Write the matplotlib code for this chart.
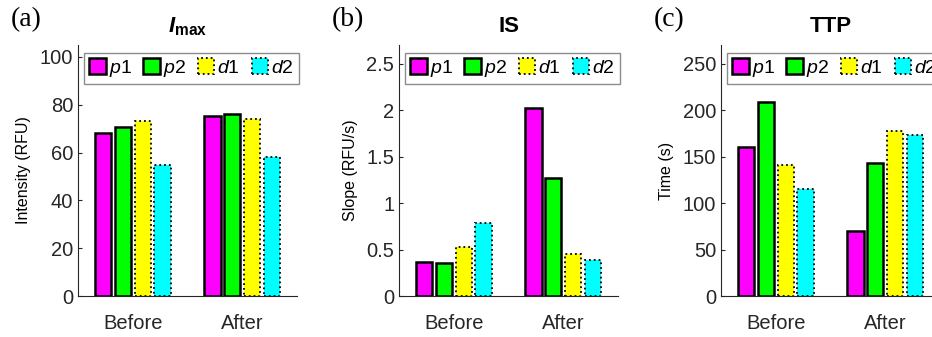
import numpy as np
import matplotlib.pyplot as plt

# grouped bars: before/after for p1, p2, d1, d2
groups = ['Before', 'After']
series = ['p1', 'p2', 'd1', 'd2']
legend_labels = [r'$\mathit{p}$1', r'$\mathit{p}$2', r'$\mathit{d}$1', r'$\mathit{d}$2']

imax = {'p1': [68.2, 75.3], 'p2': [70.5, 76.3], 'd1': [73.1, 74.2], 'd2': [54.7, 58.2]}
slope = {'p1': [0.362, 2.02], 'p2': [0.354, 1.27], 'd1': [0.526, 0.451], 'd2': [0.787, 0.387]}
ttp = {'p1': [160.4, 70.1], 'p2': [209.0, 142.7], 'd1': [140.6, 177.3], 'd2': [115.1, 173.4]}

colors = ['#ff00ff', '#00ff00', '#ffff00', '#00ffff']
styles = ['-', '-', ':', ':']

plt.rcParams['font.family'] = ['Liberation Sans', 'DejaVu Sans']
plt.rcParams['mathtext.fontset'] = 'custom'
plt.rcParams['mathtext.rm'] = 'Liberation Sans'
plt.rcParams['mathtext.it'] = 'Liberation Sans:italic'
plt.rcParams['mathtext.bf'] = 'Liberation Sans:bold'
plt.rcParams['mathtext.bfit'] = 'Liberation Sans:bold:italic'

panels = [
    ('(a)', r'$\mathbfit{I}_{\mathbf{max}}$', 'Intensity (RFU)', imax, 105, [0, 20, 40, 60, 80, 100], ['0', '20', '40', '60', '80', '100']),
    ('(b)', 'IS', 'Slope (RFU/s)', slope, 2.7, [0, 0.5, 1, 1.5, 2, 2.5], ['0', '0.5', '1', '1.5', '2', '2.5']),
    ('(c)', 'TTP', 'Time (s)', ttp, 270, [0, 50, 100, 150, 200, 250], ['0', '50', '100', '150', '200', '250']),
]

fig = plt.figure(figsize=(9.32, 3.37), dpi=100)
lefts = [78 / 932, 399 / 932, 721 / 932]
x = np.arange(1, len(groups) + 1)
step = 0.182
width = 0.15

for left, (tag, title, ylabel, data, ytop, yt, ytl) in zip(lefts, panels):
    ax = fig.add_axes([left, 41 / 337, 219 / 932, 251 / 337])
    for i, s in enumerate(series):
        lw = 1.8 if styles[i] == '-' else 1.3
        ax.bar(x + (i - 1.5) * step, data[s], width, color=colors[i], edgecolor='black',
               linewidth=lw, linestyle=styles[i], label=legend_labels[i])
    ax.set_xlim(0.5, 2.5)
    ax.set_ylim(0, ytop)
    ax.set_xticks(x)
    ax.set_xticklabels(groups)
    ax.set_yticks(yt)
    ax.set_yticklabels(ytl)
    ax.tick_params(direction='in', length=3, labelsize=14.5, width=0.8, colors='#262626')
    ax.tick_params(axis='x', length=0, pad=13)
    ax.spines['top'].set_visible(False)
    ax.spines['right'].set_visible(False)
    ax.spines['left'].set_color('#262626')
    ax.spines['bottom'].set_color('#262626')
    ax.set_ylabel(ylabel, fontsize=11.5, labelpad=6)
    ax.set_title(title, fontsize=16, fontweight='bold', pad=9)
    leg = ax.legend(loc='upper center', bbox_to_anchor=(0.518, 0.968), ncol=4, fontsize=14,
                    handlelength=0.85, handleheight=0.85, handletextpad=0.15, columnspacing=0.6,
                    borderpad=0.25, borderaxespad=0, fancybox=False, framealpha=1)
    leg.get_frame().set_edgecolor('#8c8c8c')
    leg.get_frame().set_linewidth(1.0)
    fig.text(left - 67 / 932, 1 - 20 / 337, tag, fontsize=20, family='Liberation Serif', va='center')

fig.savefig('out.png', dpi=100)
